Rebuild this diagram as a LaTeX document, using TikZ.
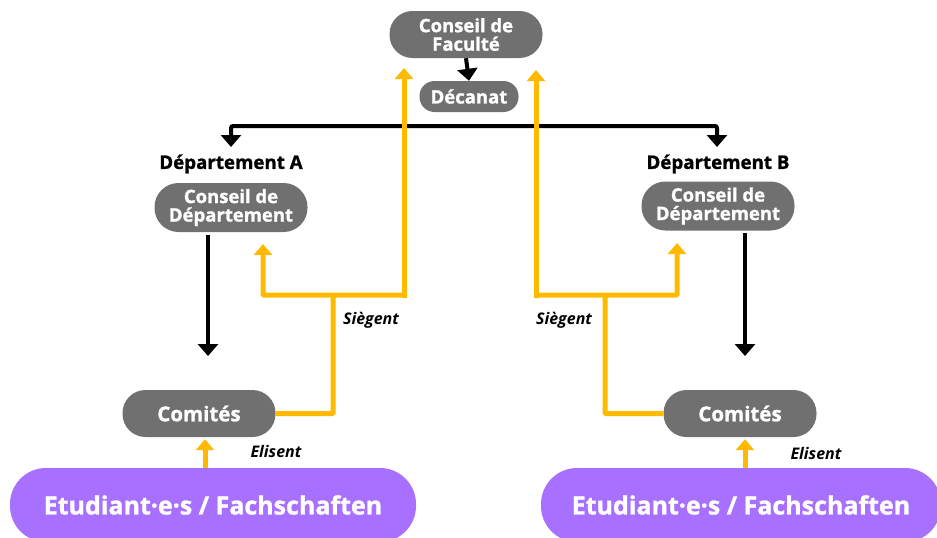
\documentclass[tikz,border=0pt]{standalone}
\usepackage{fontspec}
\setmainfont{Open Sans}[BoldFeatures={FakeBold=1.2}]
\usetikzlibrary{arrows.meta}

\definecolor{pillgray}{RGB}{112,112,112}
\definecolor{votegold}{RGB}{255,186,0}
\definecolor{studpurple}{RGB}{167,112,255}

\begin{document}
\begin{tikzpicture}[x=1pt,y=-1pt]

      % Styles for the boxes and the two kinds of arrows
      \tikzstyle{pill}=[fill=pillgray,text=white,font=\bfseries\fontsize{18.5}{18.5}\selectfont,align=center,inner sep=0pt,minimum width=153pt,minimum height=47pt,rounded corners=23pt]
      \tikzstyle{students}=[fill=studpurple,text=white,font=\bfseries\fontsize{25}{28}\selectfont,inner sep=0pt,minimum width=406pt,minimum height=74pt,rounded corners=36pt]
      \tikzstyle{heading}=[font=\bfseries\fontsize{18.7}{20}\selectfont,inner sep=0pt]
      \tikzstyle{verb}=[font=\bfseries\itshape\fontsize{16}{18}\selectfont,inner sep=0pt]
      \tikzstyle{hier}=[line width=4pt,-{Triangle[width=20pt,length=12pt]}]
      \tikzstyle{elect}=[votegold,line width=5pt,-{Triangle[width=18pt,length=11pt]}]
      \tikzstyle{electline}=[votegold,line width=5pt]

      \useasboundingbox (0,0) rectangle (937,538);

      % Faculty level
      \node[pill] (cfac) at (466,34.5) {Conseil de\\Faculté};
      \node[pill,minimum width=99pt,minimum height=31pt,rounded corners=15pt] (decanat) at (469,96.5) {Décanat};
      \coordinate (split) at (469,126);
      \coordinate (tipA) at (231,147);
      \coordinate (tipB) at (717,147);

      % Departments
      \node[heading] (depA) at (231,164) {Département A};
      \node[heading] (depB) at (718,164) {Département B};
      \node[pill,minimum height=49pt,rounded corners=24pt] (cdepA) at (231,207.5) {Conseil de\\Département};
      \node[pill,minimum height=49pt,rounded corners=24pt] (cdepB) at (718,206) {Conseil de\\Département};

      % Committees and students
      \node[pill,font=\bfseries\fontsize{20.5}{22}\selectfont] (comA) at (199,413.5) {Comités};
      \node[pill,font=\bfseries\fontsize{20.5}{22}\selectfont] (comB) at (740,413.5) {Comités};
      \node[students] (studA) at (213,505) {Etudiant·e·s / Fachschaften};
      \node[students,minimum width=400pt] (studB) at (741,505) {Etudiant·e·s / Fachschaften};

      % Black arrows (hierarchy)
      \draw[hier] (cfac.south) -- (decanat.north);
      \draw[hier,rounded corners=2pt] (split) -| (tipA);
      \draw[hier,rounded corners=2pt] (split) -| (tipB);
      \draw[hier] (208,235) -- (208,356);
      \draw[hier] (745,233) -- (745,356);

      % Yellow arrows (elections) - left side
      \draw[elect] (studA.north -| 205,0) -- ([yshift=-2pt]comA.south -| 205,0);
      \draw[electline,rounded corners=1pt] (comA.east) -- (333,413.5) -- (333,295);
      \draw[elect,rounded corners=1pt] (404,295) -- (263,295) -- (263,244);
      \draw[elect] (404,297.5) -- (404,68);

      % Yellow arrows (elections) - right side
      \draw[elect] (studB.north -| 745,0) -- ([yshift=-2pt]comB.south -| 745,0);
      \draw[electline,rounded corners=1pt] (comB.west) -- (605,413.5) -- (605,295);
      \draw[elect,rounded corners=1pt] (536,295) -- (677,295) -- (677,243);
      \draw[elect] (536,297.5) -- (536,70);

      % Labels
      \node[verb] (siegA) at (371,320) {Siègent};
      \node[verb] (siegB) at (564,320) {Siègent};
      \node[verb] (eliA) at (276,451) {Elisent};
      \node[verb] (eliB) at (816,453) {Elisent};

   \end{tikzpicture}
\end{document}
